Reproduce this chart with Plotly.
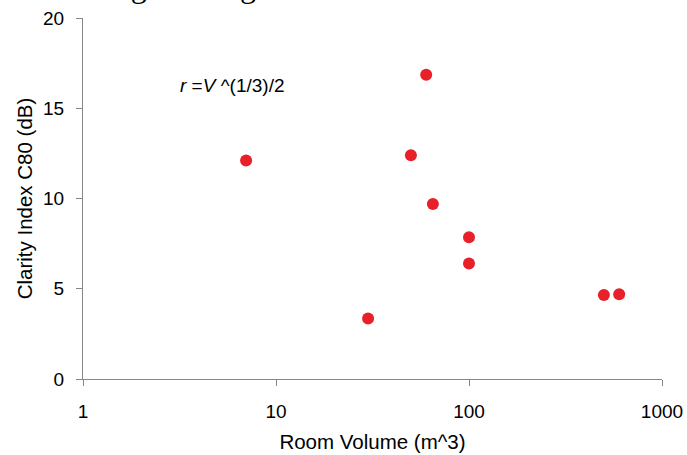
import plotly.graph_objects as go

volume = [7, 30, 50, 60, 65, 100, 100, 500, 600]
c80 = [12.1, 3.35, 12.4, 16.85, 9.7, 7.85, 6.4, 4.65, 4.7]

x_ticks = [1, 10, 100, 1000]
y_ticks = [0, 5, 10, 15, 20]

fig = go.Figure()
fig.add_trace(go.Scatter(
    x=volume, y=c80, mode="markers",
    marker=dict(color="#e8202a", size=12, line=dict(width=0)),
    showlegend=False,
))

sans = "Liberation Sans, Arial, sans-serif"
tick_font = dict(family=sans, size=19, color="#000000")
title_font = dict(family=sans, size=20.5, color="#000000")

L, R, T, B = 83, 25, 18, 76
W, H = 687, 455
pw, ph = W - L - R, H - T - B

fig.update_layout(
    width=W, height=H,
    margin=dict(l=L, r=R, t=T, b=B, autoexpand=False),
    paper_bgcolor="white", plot_bgcolor="white",
    font=tick_font,
    xaxis=dict(
        type="log", range=[0, 3], automargin=False,
        tickvals=x_ticks, ticktext=[str(v) for v in x_ticks],
        showgrid=False, zeroline=False,
        showline=True, linecolor="#868686", linewidth=1,
        ticks="outside", ticklen=6, tickcolor="#868686",
        tickfont=tick_font, ticklabelstandoff=9,
        title=dict(text="Room Volume (m^3)", font=title_font, standoff=13),
    ),
    yaxis=dict(
        range=[0, 20], automargin=False,
        tickvals=y_ticks,
        showgrid=False, zeroline=False,
        showline=True, linecolor="#868686", linewidth=1,
        ticks="outside", ticklen=6, tickcolor="#868686",
        tickfont=tick_font, ticklabelstandoff=8,
        title=dict(text="Clarity Index C80 (dB)", font=title_font, standoff=4),
    ),
    annotations=[
        dict(text="<i>r</i> =<i>V</i> ^(1/3)/2",
             x=(178 - L) / pw, y=(H - B - 85) / ph, xref="paper", yref="paper",
             showarrow=False, font=dict(family=sans, size=19, color="#000"),
             xanchor="left", yanchor="middle"),
        dict(text="s were being investigated.",
             x=(-17 - L) / pw, y=(H - B - 6) / ph, xref="paper", yref="paper",
             showarrow=False,
             font=dict(family="Liberation Serif, Times New Roman, serif", size=32, color="#000"),
             xanchor="left", yanchor="bottom"),
    ],
)

fig.write_html("out.html")
